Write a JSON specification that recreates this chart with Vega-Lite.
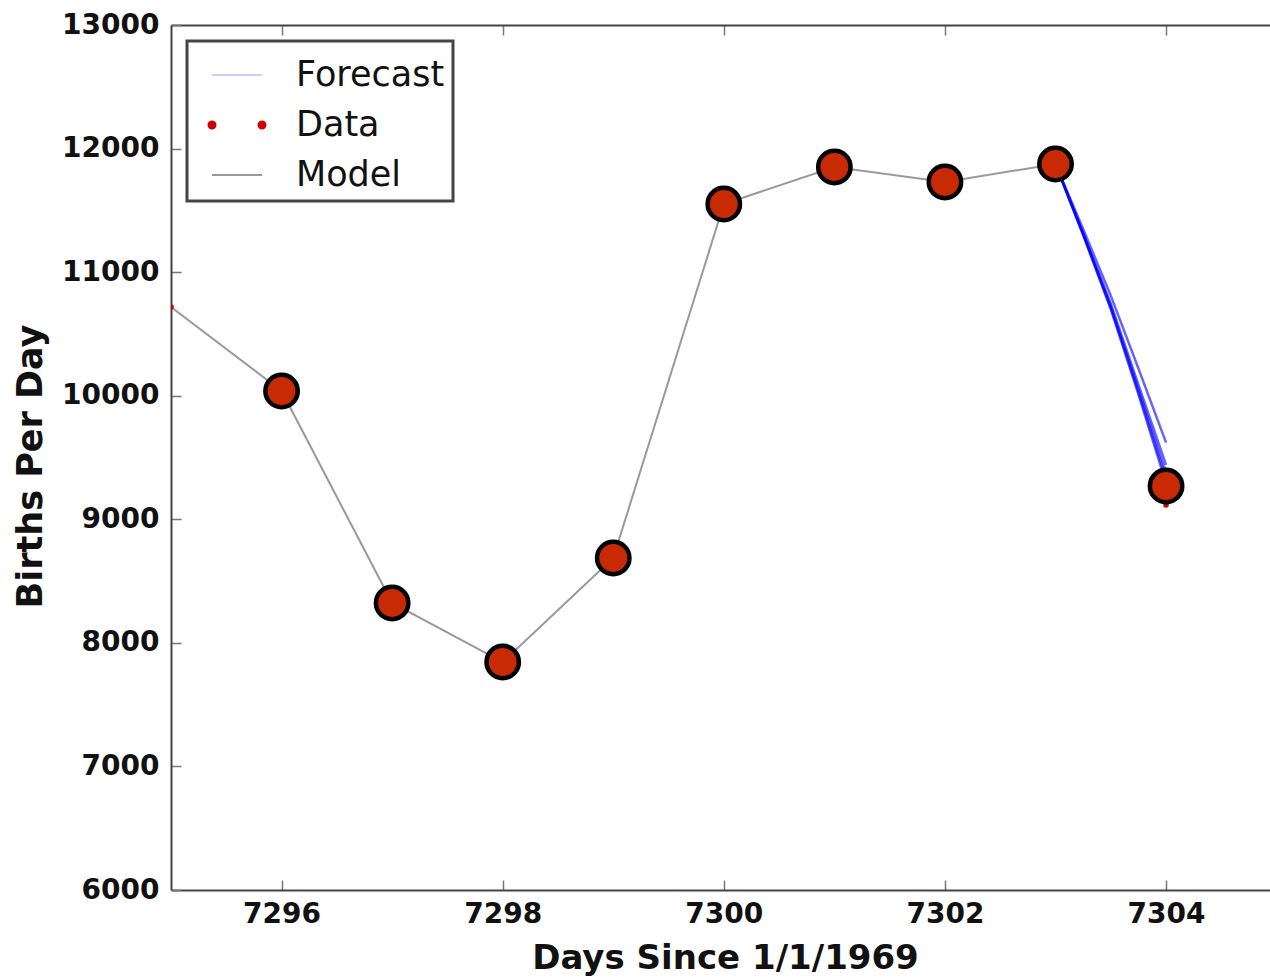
{
  "$schema": "https://vega.github.io/schema/vega-lite/v6.json",
  "width": 1099,
  "height": 865,
  "autosize": {"type": "none"},
  "padding": {"left": 171, "top": 25, "right": 0, "bottom": 88},
  "background": "white",
  "config": {
    "view": {"stroke": null},
    "font": "DejaVu Sans",
    "axis": {
      "grid": false,
      "domainColor": "#444444",
      "domainWidth": 2,
      "tickColor": "#777777",
      "tickWidth": 1.5,
      "tickSize": -10,
      "labelFont": "DejaVu Sans",
      "labelFontSize": 28,
      "labelFontWeight": "bold",
      "labelColor": "#111111",
      "titleFont": "DejaVu Sans",
      "titleFontWeight": "bold",
      "titleColor": "#111111"
    },
    "legend": {
      "orient": "top-left",
      "offset": 16,
      "padding": 8,
      "fillColor": "white",
      "strokeColor": "#444444",
      "strokeWidth": 3,
      "cornerRadius": 0,
      "labelFont": "DejaVu Sans",
      "labelFontSize": 35,
      "labelColor": "#111111",
      "symbolSize": 2500,
      "rowPadding": 6,
      "labelOffset": 33,
      "symbolOffset": 16
    }
  },
  "datasets": {
    "model": [
      {"day": 7295, "births": 10718, "series": "Model"},
      {"day": 7296, "births": 10038, "series": "Model"},
      {"day": 7297, "births": 8323, "series": "Model"},
      {"day": 7298, "births": 7845, "series": "Model"},
      {"day": 7299, "births": 8687, "series": "Model"},
      {"day": 7300, "births": 11551, "series": "Model"},
      {"day": 7301, "births": 11851, "series": "Model"},
      {"day": 7302, "births": 11730, "series": "Model"},
      {"day": 7303, "births": 11875, "series": "Model"}
    ],
    "forecast": [
      {"day": 7303, "births": 11875, "run": 1, "series": "Forecast"},
      {"day": 7303.25, "births": 11300, "run": 1, "series": "Forecast"},
      {"day": 7303.5, "births": 10700, "run": 1, "series": "Forecast"},
      {"day": 7303.75, "births": 10010, "run": 1, "series": "Forecast"},
      {"day": 7304, "births": 9290, "run": 1, "series": "Forecast"},
      {"day": 7303, "births": 11875, "run": 2, "series": "Forecast"},
      {"day": 7303.25, "births": 11305, "run": 2, "series": "Forecast"},
      {"day": 7303.5, "births": 10710, "run": 2, "series": "Forecast"},
      {"day": 7303.75, "births": 10030, "run": 2, "series": "Forecast"},
      {"day": 7304, "births": 9330, "run": 2, "series": "Forecast"},
      {"day": 7303, "births": 11875, "run": 3, "series": "Forecast"},
      {"day": 7303.25, "births": 11310, "run": 3, "series": "Forecast"},
      {"day": 7303.5, "births": 10725, "run": 3, "series": "Forecast"},
      {"day": 7303.75, "births": 10055, "run": 3, "series": "Forecast"},
      {"day": 7304, "births": 9380, "run": 3, "series": "Forecast"},
      {"day": 7303, "births": 11875, "run": 4, "series": "Forecast"},
      {"day": 7303.25, "births": 11320, "run": 4, "series": "Forecast"},
      {"day": 7303.5, "births": 10745, "run": 4, "series": "Forecast"},
      {"day": 7303.75, "births": 10090, "run": 4, "series": "Forecast"},
      {"day": 7304, "births": 9440, "run": 4, "series": "Forecast"},
      {"day": 7303, "births": 11875, "run": 5, "series": "Forecast"},
      {"day": 7303.25, "births": 11350, "run": 5, "series": "Forecast"},
      {"day": 7303.5, "births": 10810, "run": 5, "series": "Forecast"},
      {"day": 7303.75, "births": 10220, "run": 5, "series": "Forecast"},
      {"day": 7304, "births": 9620, "run": 5, "series": "Forecast"}
    ],
    "data": [
      {"day": 7295, "births": 10718, "series": "Data"},
      {"day": 7296, "births": 10038, "series": "Data"},
      {"day": 7297, "births": 8323, "series": "Data"},
      {"day": 7298, "births": 7845, "series": "Data"},
      {"day": 7299, "births": 8687, "series": "Data"},
      {"day": 7300, "births": 11551, "series": "Data"},
      {"day": 7301, "births": 11851, "series": "Data"},
      {"day": 7302, "births": 11730, "series": "Data"},
      {"day": 7303, "births": 11875, "series": "Data"},
      {"day": 7304, "births": 9116, "series": "Data"}
    ],
    "circles": [
      {"day": 7296, "births": 10038},
      {"day": 7297, "births": 8323},
      {"day": 7298, "births": 7845},
      {"day": 7299, "births": 8687},
      {"day": 7300, "births": 11551},
      {"day": 7301, "births": 11851},
      {"day": 7302, "births": 11730},
      {"day": 7303, "births": 11875},
      {"day": 7304, "births": 9269}
    ]
  },
  "resolve": {"axis": {"x": "independent"}},
  "layer": [
    {
      "data": {"name": "model"},
      "mark": {"type": "line", "strokeWidth": 2, "clip": true},
      "encoding": {
        "x": {"field": "day", "type": "quantitative",
          "scale": {"domain": [7295, 7304.94], "nice": false, "zero": false},
          "axis": {"values": [7296, 7298, 7300, 7302, 7304], "format": "d", "title": "Days Since 1/1/1969", "titleFontSize": 34, "labelPadding": 20, "titlePadding": 13, "titleX": 554}},
        "y": {"field": "births", "type": "quantitative",
          "scale": {"domain": [6000, 13000], "nice": false, "zero": false},
          "axis": {"values": [6000, 7000, 8000, 9000, 10000, 11000, 12000, 13000], "format": "d", "title": "Births Per Day", "titleFontSize": 35, "labelPadding": 22, "titlePadding": 13, "titleY": 441}},
        "color": {"field": "series", "type": "nominal",
          "scale": {"domain": ["Forecast", "Data", "Model"], "range": ["#0000ff", "#cc0000", "#999999"]},
          "legend": {"title": null,
            "encode": {"symbols": {"update": {
              "shape": {"signal": "datum.value === 'Data' ? 'M-0.86,0 A0.14,0.14 0 1,0 -1.14,0 A0.14,0.14 0 1,0 -0.86,0 Z M1.14,0 A0.14,0.14 0 1,0 0.86,0 A0.14,0.14 0 1,0 1.14,0 Z' : 'stroke'"},
              "fill": {"signal": "datum.value === 'Data' ? '#cc0000' : 'transparent'"},
              "stroke": {"signal": "datum.value === 'Forecast' ? '#ccccff' : (datum.value === 'Model' ? '#999999' : 'transparent')"},
              "strokeOpacity": {"signal": "datum.value === 'Forecast' ? 0.2 : 1"},
              "strokeWidth": {"value": 2},
              "opacity": {"value": 1}
            }}}}}
      }
    },
    {
      "data": {"name": "forecast"},
      "mark": {"type": "line", "strokeWidth": 2.5, "opacity": 0.6, "clip": true},
      "encoding": {
        "x": {"field": "day", "type": "quantitative", "axis": null},
        "y": {"field": "births", "type": "quantitative"},
        "detail": {"field": "run", "type": "nominal"},
        "color": {"field": "series", "type": "nominal"}
      }
    },
    {
      "data": {"name": "data"},
      "mark": {"type": "point", "filled": true, "size": 30, "opacity": 1, "clip": true},
      "encoding": {
        "x": {"field": "day", "type": "quantitative",
          "axis": {"orient": "top", "values": [7296, 7298, 7300, 7302, 7304], "labels": false, "title": null}},
        "y": {"field": "births", "type": "quantitative"},
        "color": {"field": "series", "type": "nominal"}
      }
    },
    {
      "data": {"name": "circles"},
      "mark": {"type": "point", "filled": true, "size": 1050, "fill": "#c82a04", "stroke": "black", "strokeWidth": 4.5, "opacity": 1},
      "encoding": {
        "x": {"field": "day", "type": "quantitative", "axis": null},
        "y": {"field": "births", "type": "quantitative"}
      }
    }
  ]
}
